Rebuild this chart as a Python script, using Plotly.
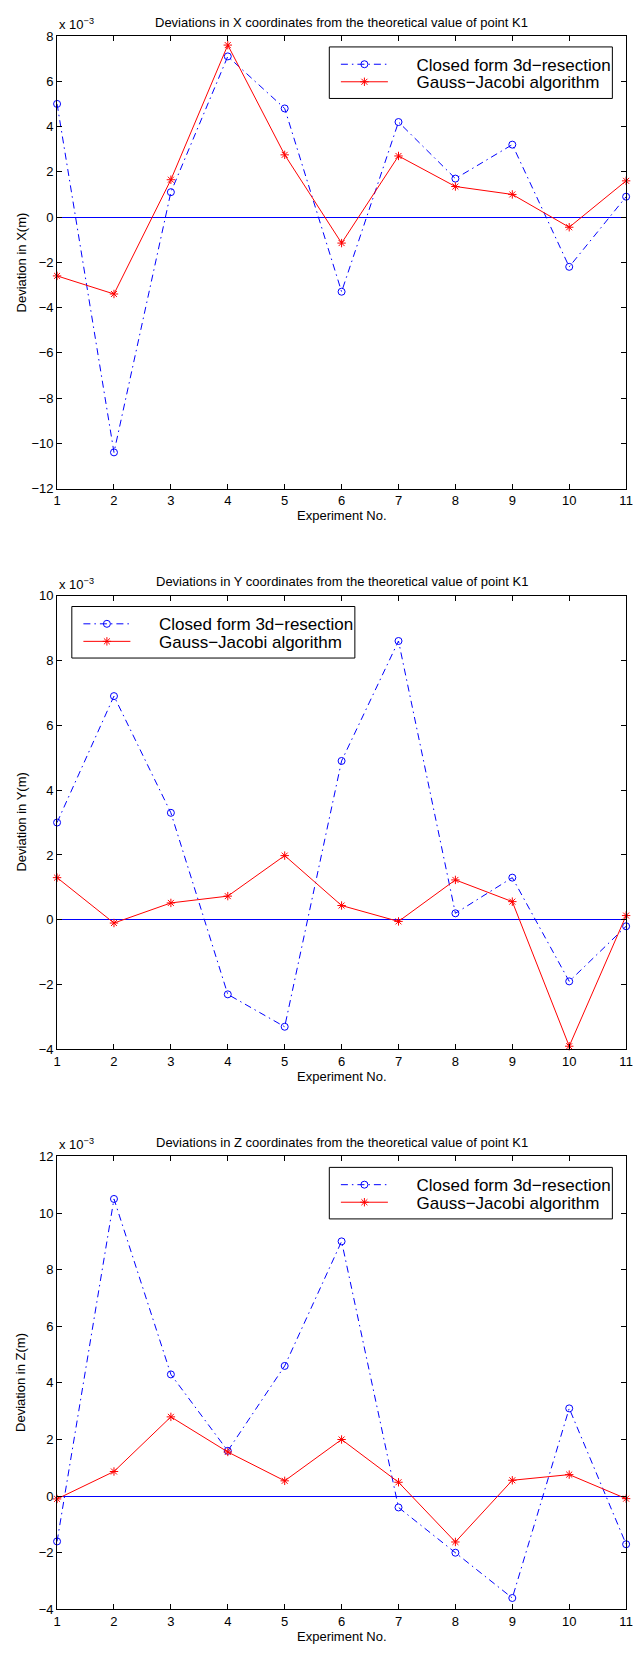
import plotly.graph_objects as go

# Experiment numbers shared by all three panels
experiments = [1, 2, 3, 4, 5, 6, 7, 8, 9, 10, 11]

# Deviations from the theoretical coordinates of point K1, in units of 1e-3 m
closed_form_x = [5.0, -10.4, 1.1, 7.1, 4.8, -3.3, 4.2, 1.7, 3.2, -2.2, 0.9]
gauss_jacobi_x = [-2.6, -3.4, 1.65, 7.6, 2.75, -1.15, 2.7, 1.35, 1.0, -0.45, 1.6]

closed_form_y = [3.0, 6.9, 3.3, -2.3, -3.3, 4.9, 8.6, 0.2, 1.3, -1.9, -0.2]
gauss_jacobi_y = [1.3, -0.1, 0.52, 0.73, 1.98, 0.44, -0.05, 1.23, 0.56, -3.9, 0.13]

closed_form_z = [-1.6, 10.5, 4.3, 1.6, 4.6, 9.0, -0.4, -2.0, -3.6, 3.1, -1.7]
gauss_jacobi_z = [-0.1, 0.87, 2.8, 1.56, 0.54, 2.0, 0.49, -1.62, 0.56, 0.76, -0.09]

series_names = ["Closed form 3d\u2212resection", "Gauss\u2212Jacobi algorithm"]
coordinate_names = ["X", "Y", "Z"]
y_limits = [(-12, 8), (-4, 10), (-4, 12)]

panels = [
    (closed_form_x, gauss_jacobi_x),
    (closed_form_y, gauss_jacobi_y),
    (closed_form_z, gauss_jacobi_z),
]

# ---- page geometry (pixels) ----
W, H = 640, 1654
AX_LEFT, AX_RIGHT = 54, 633
PANEL_PX = [(29.3, 486), (594, 1052), (1160, 1617)]   # (top, bottom) of each axes box
LEG_W, LEG_H, LEG_TOP = 288, 52, 11
LEG_SIDE = ["right", "left", "right"]
LEG_ROWS = [17.3, 35.0]          # row centres below legend box top
LEG_LINE_START = 11.7            # sample line start from box left
ITEM_CENTER = 17.55              # plotly: item centre below legend top
ITEM_WIDTH = 47

FONT = "Liberation Sans, Arial, Helvetica, sans-serif"
BLUE, RED = "#0000ff", "#ff0000"
PAD = "\u00a0" * 5


def px_x(v):
    return v / W


def px_y(v):
    return 1 - v / H


fig = go.Figure()
layout = dict(
    width=W, height=H,
    margin=dict(l=0, r=0, t=0, b=0),
    paper_bgcolor="white", plot_bgcolor="white",
    font=dict(family=FONT, size=13, color="black"),
    showlegend=True,
    annotations=[], shapes=[],
)

for i, ((closed, gauss), coord, (ylo, yhi)) in enumerate(zip(panels, coordinate_names, y_limits)):
    n = "" if i == 0 else str(i + 1)
    xa, ya = "x" + n, "y" + n
    top, bottom = PANEL_PX[i]

    leg_ids = []
    for k in range(2):
        idx = 2 * i + k + 1
        leg_ids.append("legend" if idx == 1 else f"legend{idx}")

    fig.add_trace(go.Scatter(
        x=experiments, y=closed, name=PAD + series_names[0],
        mode="lines+markers", xaxis=xa, yaxis=ya, legend=leg_ids[0],
        line=dict(color=BLUE, width=1, dash="7px,4px,1.5px,4px"),
        marker=dict(symbol="circle-open", size=7, color=BLUE, line=dict(width=1, color=BLUE)),
        cliponaxis=False,
    ))
    fig.add_trace(go.Scatter(
        x=experiments, y=gauss, name=PAD + series_names[1],
        mode="lines+markers", xaxis=xa, yaxis=ya, legend=leg_ids[1],
        line=dict(color=RED, width=1),
        marker=dict(symbol="asterisk-open", size=7, color=RED, line=dict(width=1, color=RED)),
        cliponaxis=False,
    ))

    axis_common = dict(
        showline=True, linecolor="black", linewidth=1, mirror="ticks",
        ticks="inside", ticklen=5, tickwidth=1, tickcolor="black",
        showgrid=False, tickfont=dict(family=FONT, size=13, color="black"),
    )
    layout["xaxis" + n] = dict(
        axis_common, domain=[px_x(AX_LEFT), px_x(AX_RIGHT)], range=[1, 11],
        tickmode="array", tickvals=experiments, anchor=ya, zeroline=False,
    )
    layout["yaxis" + n] = dict(
        axis_common, domain=[px_y(bottom), px_y(top)], range=[ylo, yhi],
        tick0=0, dtick=2, anchor=xa,
        zeroline=True, zerolinecolor=BLUE, zerolinewidth=1,
    )

    # legend frame
    if LEG_SIDE[i] == "right":
        box_l = AX_RIGHT - 14 - LEG_W
    else:
        box_l = AX_LEFT + 15
    box_t = top + LEG_TOP
    layout["shapes"].append(dict(
        type="rect", xref="paper", yref="paper", layer="above",
        x0=px_x(box_l), x1=px_x(box_l + LEG_W),
        y0=px_y(box_t + LEG_H), y1=px_y(box_t),
        line=dict(color="black", width=1), fillcolor="white",
    ))
    for k in range(2):
        layout[leg_ids[k]] = dict(
            x=px_x(box_l + LEG_LINE_START - 5), y=px_y(box_t + LEG_ROWS[k] - ITEM_CENTER),
            xanchor="left", yanchor="top",
            bgcolor="rgba(0,0,0,0)", borderwidth=0, itemwidth=ITEM_WIDTH,
            font=dict(family=FONT, size=17, color="black"),
        )

    xd, yd = xa + " domain", ya + " domain"
    layout["annotations"] += [
        dict(text=f"Deviations in {coord} coordinates from the theoretical value of point K1",
             xref=xd, yref=yd, x=0.5, y=1, xanchor="center", yanchor="middle",
             yshift=14, showarrow=False, font=dict(size=13)),
        dict(text="x 10<sup>\u22123</sup>", xref=xd, yref=yd, x=0, y=1,
             xanchor="left", yanchor="bottom", yshift=2, showarrow=False,
             font=dict(size=13)),
        dict(text="Experiment No.", xref=xd, yref=yd, x=0.5, y=0,
             xanchor="center", yanchor="middle", yshift=-27, showarrow=False,
             font=dict(size=13)),
        dict(text=f"Deviation in {coord}(m)", xref=xd, yref=yd, x=0, y=0.5,
             xanchor="center", yanchor="middle", xshift=-36, textangle=-90,
             showarrow=False, font=dict(size=13)),
    ]

fig.update_layout(**layout)
fig.write_html("out.html")
